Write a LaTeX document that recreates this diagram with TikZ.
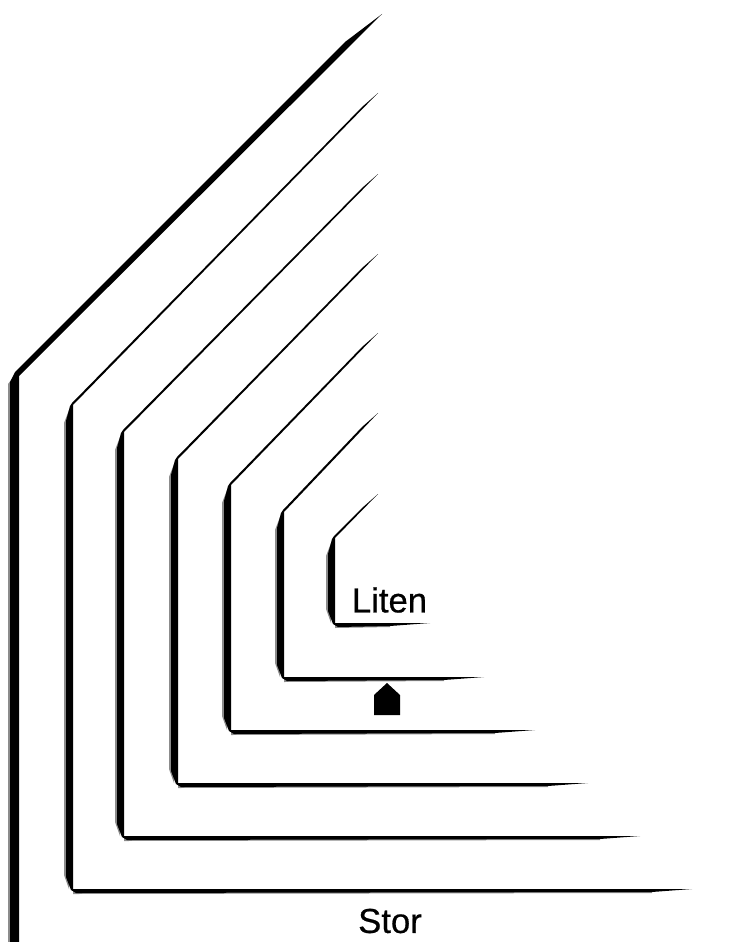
\documentclass[tikz,border=0pt]{standalone}
\usepackage{fontspec}
\setmainfont{Liberation Sans}
\newfontfamily\scanfont{Liberation Sans}[FakeBold=0.6]
\definecolor{ink}{HTML}{000000}
\tikzset{
  every node/.style={font=\scanfont\fontsize{26}{30}\selectfont, text=ink, inner sep=0pt},
  band/.style={fill=ink, draw=none},
  fringe/.style={fill=ink!45, draw=none},
  marker/.style={fill=ink, draw=none},
}
\begin{document}
\begin{tikzpicture}[x=0.75pt, y=-0.75pt]
\useasboundingbox (0,0) rectangle (739,942);

% outermost line runs off the bottom edge
\fill[fringe] (17,372) -- (8,384) -- (8,942) -- (12,942) -- cycle;
\fill[band] (382,14) -- (19,376) -- (19,942) -- (10,942) -- (10,382) -- (15,372) -- (345,42) -- cycle;

% x, corner y, top end x, top end y, bottom y, right end
\foreach \vx/\cy/\ex/\ey/\by/\rx in {
  73/405/378/93/889/692,
  124/432/378/174/836/640,
  178/459/378/254/783/588,
  231/485/378/333/730/535,
  284/512/378/413/677/484,
  335/538/378/494/623/430}
{
  \fill[fringe] (\vx-4,\cy+5) -- (\vx-9,\cy+18) -- (\vx-9,\by-14) -- (\vx-4,\by) -- cycle;
  \fill[fringe] (\vx,\by+2) -- (\vx,\by+5) -- (\rx-40,\by+4) -- (\rx-40,\by+2) -- cycle;
  \fill[band] (\ex,\ey) -- (\vx,\cy) -- (\vx,\by) -- (\rx,\by)
    -- (\rx-40,\by+3) -- (\vx+3,\by+4) -- (\vx-2,\by+1) -- (\vx-7,\by-12)
    -- (\vx-7,\cy+16) -- (\vx-3,\cy+1) -- (\vx-1,\cy-2) -- (\ex-16,\ey+14) -- cycle;
}

\fill[marker] (387,683) -- (400,695) -- (400,715) -- (374,715) -- (374,695) -- cycle;

\node (liten) at (389.5,600) {Liten};
\node (stor) at (390,921) {Stor};
\end{tikzpicture}
\end{document}
